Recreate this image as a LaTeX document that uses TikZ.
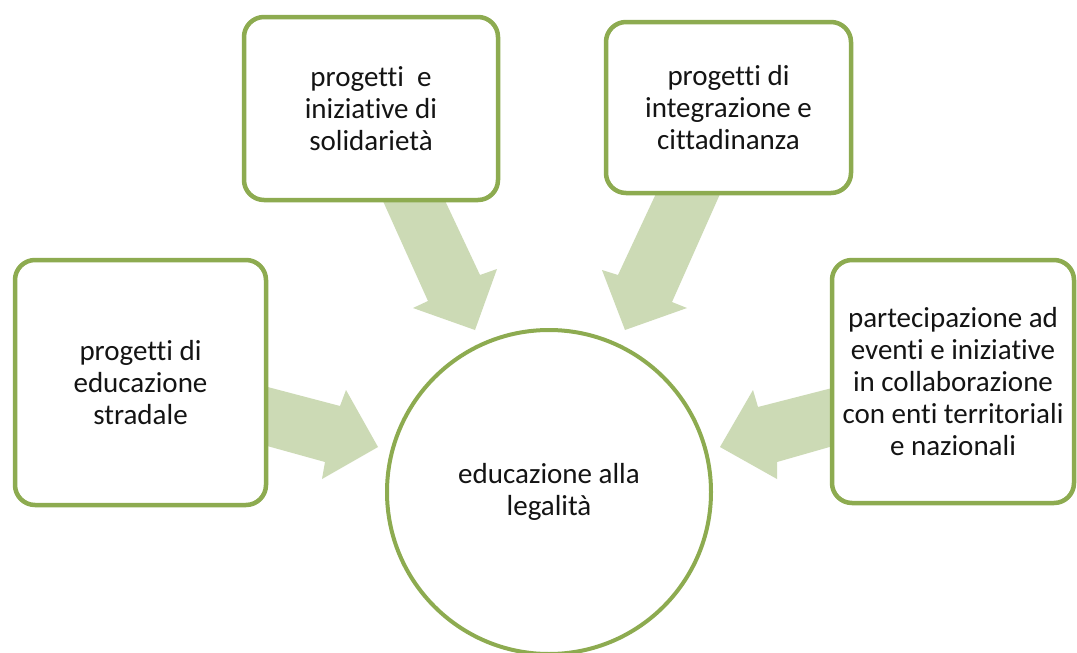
\documentclass[tikz,border=0pt]{standalone}
\usepackage{fontspec}
\setmainfont{Carlito}[Ligatures=NoCommon]
\definecolor{boxgreen}{RGB}{141,171,80}
\definecolor{arrowgreen}{RGB}{204,218,181}
\definecolor{txt}{RGB}{20,20,20}
\begin{document}
\begin{tikzpicture}[x=1pt,y=-1pt,
  boxnode/.style={draw=boxgreen, line width=4.5pt, fill=white, rounded corners=20pt,
    rectangle, align=center, text=txt, inner sep=0pt,
    font=\fontsize{29pt}{32pt}\selectfont},
  circnode/.style={draw=boxgreen, line width=4pt, fill=white, circle, align=center,
    text=txt, inner sep=0pt, font=\fontsize{29pt}{32pt}\selectfont},
  blockarrow/.style={fill=arrowgreen, draw=none}]
\useasboundingbox (0,0) rectangle (1077,653);
\fill[white] (0,0) rectangle (1077,653);
% block arrows (behind the boxes)
\fill[blockarrow] (378,190) -- (440,190) -- (480,275) -- (497,269) -- (475,330) -- (413,308) -- (428,301) -- cycle;
\fill[blockarrow] (660,185) -- (724,185) -- (672,302) -- (687,308) -- (625,330) -- (602,270) -- (618,275) -- cycle;
\fill[blockarrow] (260,385) -- (340,406) -- (346,390) -- (378,447) -- (322,479) -- (325,462) -- (260,444) -- cycle;
\fill[blockarrow] (840,386) -- (758,407) -- (753,390) -- (720,447) -- (777,479) -- (777,462) -- (840,444) -- cycle;
% boxes
\node[boxnode, minimum width=251pt, minimum height=245pt] (left) at (140.5,382.5)
  {progetti di\\educazione\\stradale};
\node[boxnode, minimum width=254pt, minimum height=183pt] (topleft) at (371,108.5)
  {progetti\ \ e\\iniziative di\\solidarietà};
\node[boxnode, minimum width=245pt, minimum height=171pt] (topright) at (728.5,107.5)
  {progetti di\\integrazione e\\cittadinanza};
\node[boxnode, minimum width=242pt, minimum height=243pt] (right) at (953,381.5)
  {partecipazione ad\\eventi e iniziative\\in collaborazione\\con enti territoriali\\e nazionali};
\node[circnode, minimum size=324pt] (center) at (549,492)
  {educazione alla\\legalità};
\end{tikzpicture}
\end{document}
